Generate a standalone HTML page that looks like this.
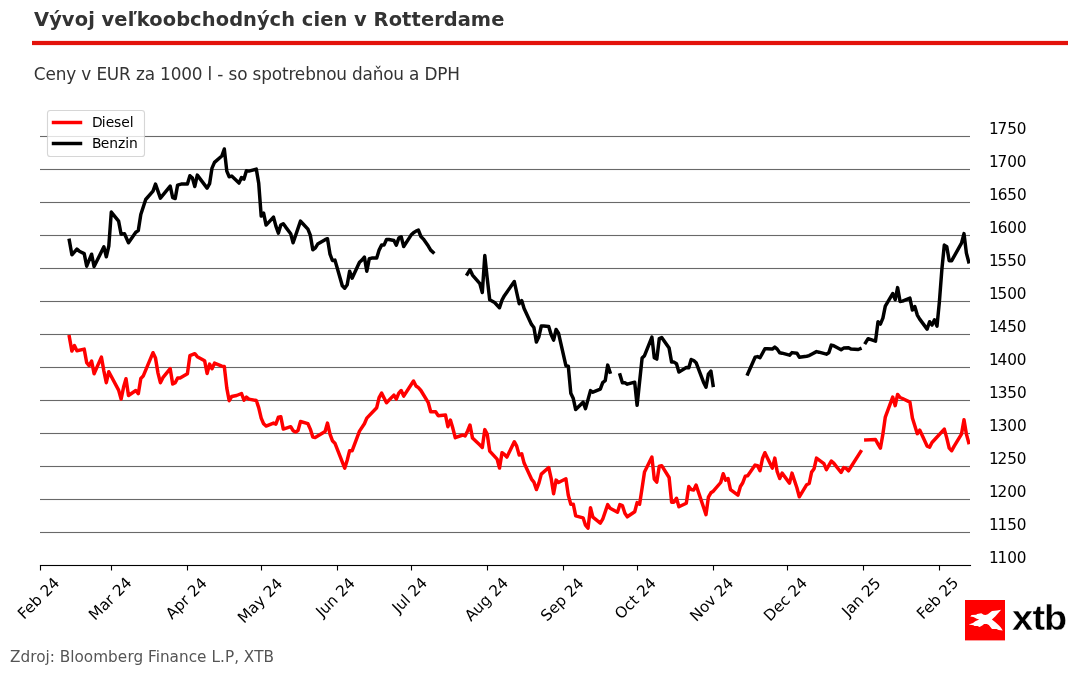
<!DOCTYPE html>
<html lang="sk">
<head>
<meta charset="utf-8">
<title>Vývoj veľkoobchodných cien v Rotterdame</title>
<style>
html,body{margin:0;padding:0;background:#fff;}
body{width:1078px;height:674px;overflow:hidden;}
svg{display:block;}
svg text{font-family:"DejaVu Sans","Liberation Sans",sans-serif;}
.title{font-weight:bold;font-size:19.44px;fill:#333;}
.sub{font-size:16.9px;fill:#333;}
.src{font-size:15.28px;fill:#555;}
.tick text{font-size:15.28px;fill:#000;}
.leg text{font-size:13.89px;fill:#000;}
.logo text{font-family:"Liberation Sans","DejaVu Sans",sans-serif;font-weight:bold;font-size:35.8px;fill:#000;stroke:#fff;stroke-width:0.35px;}
</style>
</head>
<body>
<svg width="1078" height="674" viewBox="0 0 1078 674">
<defs><clipPath id="ax"><rect x="40" y="100" width="930" height="466"/></clipPath></defs>
<rect width="1078" height="674" fill="#fff"/>
<text class="title" x="34.12 49.21 61.81 74.67 88.19 94.79 101.60 114.34 127.69 136.82 149.28 162.82 176.23 190.07 201.78 215.67 229.20 243.04 256.93 269.55 281.23 295.14 301.83 313.53 320.24 333.48 347.37 354.08 366.92 373.61 388.78 402.05 411.53 420.99 434.23 443.86 457.71 470.77 491.20" y="26.20">Vývoj veľkoobchodných cien v Rotterdame</text>
<rect x="32" y="40.9" width="1036" height="4.2" fill="#e3120b"/>
<text class="sub" x="33.79 45.42 55.78 66.33 76.15 81.37 91.20 96.42 106.79 119.12 130.70 135.92 144.74 154.81 160.01 170.73 181.19 191.78 202.36 207.58 212.11 217.31 223.25 228.45 237.23 247.28 252.48 261.37 271.69 281.98 288.58 294.86 305.21 315.65 326.20 336.25 346.79 352.00 362.56 372.75 383.17 393.34 404.01 408.97 419.42 424.62 437.34 447.36" y="80.00">Ceny v EUR za 1000 l - so spotrebnou daňou a DPH</text>
<g fill="#696969">
<rect x="40" y="531.945" width="930" height="1.11"/>
<rect x="40" y="498.945" width="930" height="1.11"/>
<rect x="40" y="465.945" width="930" height="1.11"/>
<rect x="40" y="432.945" width="930" height="1.11"/>
<rect x="40" y="399.945" width="930" height="1.11"/>
<rect x="40" y="366.945" width="930" height="1.11"/>
<rect x="40" y="333.945" width="930" height="1.11"/>
<rect x="40" y="300.945" width="930" height="1.11"/>
<rect x="40" y="267.945" width="930" height="1.11"/>
<rect x="40" y="234.945" width="930" height="1.11"/>
<rect x="40" y="201.945" width="930" height="1.11"/>
<rect x="40" y="168.945" width="930" height="1.11"/>
<rect x="40" y="135.945" width="930" height="1.11"/>
</g>
<g fill="none" stroke="#ff0000" stroke-width="3.47" stroke-linejoin="round" stroke-linecap="square" clip-path="url(#ax)">
<polyline points="69.3,336.7 71.9,351.1 74.4,345.6 76.9,350.7 84.2,349.1 86.7,362.7 89.1,365.7 91.6,361.1 94.1,373.7 101.4,357.1 103.9,371.1 106.3,382.7 108.8,371.7 118.6,390.1 121.1,399.1 123.6,387.1 126.0,378.7 128.5,395.5 135.8,390.5 138.3,393.7 140.8,378.5 143.2,376.1 153.0,352.7 155.5,358.1 158.0,373.1 160.4,382.7 162.9,377.7 170.2,368.7 172.7,384.1 175.2,382.7 177.6,378.1 180.1,378.1 187.4,373.7 189.9,355.7 194.8,353.7 197.3,356.7 204.6,360.7 207.1,373.5 209.6,364.1 212.0,368.7 214.5,363.1 221.8,366.1 224.3,366.5 226.8,388.1 229.2,400.7 231.7,396.5 236.6,395.5 241.5,393.5 244.0,400.1 246.4,397.1 248.9,399.1 256.3,400.5 258.7,407.6 261.2,418.1 263.6,423.7 266.1,426.1 273.5,423.1 275.9,424.1 278.4,417.1 280.8,416.7 283.3,429.1 290.7,426.7 293.1,430.7 295.6,432.1 298.0,430.5 300.5,421.5 307.9,423.7 310.3,429.1 312.8,437.1 315.2,437.5 325.1,431.5 327.5,423.1 330.0,434.1 332.4,440.7 334.9,443.2 344.7,468.2 347.2,460.2 349.6,450.8 352.1,450.8 359.5,431.1 364.4,423.7 366.8,418.1 376.7,407.7 379.1,397.7 381.6,393.1 386.5,402.7 393.9,395.1 396.3,399.1 398.8,393.1 401.2,390.5 403.7,396.1 413.5,381.0 416.0,386.0 418.4,387.7 420.9,390.5 428.3,402.7 430.7,411.7 435.6,411.7 438.1,415.7 445.5,415.1 447.9,426.7 450.4,420.1 452.8,428.1 455.3,437.7 462.7,435.0 465.1,436.0 467.6,431.0 470.0,425.0 472.5,438.1 479.9,445.1 482.3,447.5 484.8,429.6 487.2,434.0 489.7,451.1 497.1,459.1 499.5,468.1 502.0,452.7 504.4,454.5 506.9,457.1 514.3,441.7 516.7,446.1 519.2,455.1 521.7,453.7 524.1,463.1 531.5,479.1 533.9,482.1 536.4,489.5 538.9,483.1 541.3,474.1 548.7,467.5 551.1,478.1 553.6,493.8 556.1,480.1 558.5,482.5 565.9,478.7 568.3,495.2 570.8,504.2 573.3,504.2 575.7,515.8 583.1,517.8 585.5,525.2 588.0,528.2 590.5,507.8 592.9,517.2 600.3,523.2 602.7,519.2 607.7,504.6 610.1,508.2 617.5,512.2 619.9,504.6 622.4,505.6 624.9,513.2 627.3,516.8 634.7,511.8 637.1,502.6 639.6,504.2 642.1,488.1 644.5,472.1 651.9,457.1 654.3,479.1 656.8,482.1 659.3,466.1 661.7,465.7 669.1,477.5 671.6,502.2 674.0,502.2 676.5,498.2 678.9,506.8 686.3,503.2 688.8,486.5 691.2,489.5 693.7,490.1 696.1,485.1 706.0,514.6 708.4,497.2 710.9,492.8 713.3,491.2 720.7,482.5 723.2,473.7 725.6,480.1 728.1,478.5 730.5,489.7 737.9,495.2 740.4,486.5 742.8,482.7 745.3,476.1 747.7,475.7 755.1,465.1 757.6,465.7 760.0,470.7 762.5,458.5 764.9,452.7 772.3,468.1 774.8,458.1 777.2,471.7 779.7,478.5 782.1,473.1 789.5,483.1 792.0,473.1 796.9,487.7 799.3,496.8 806.7,484.7 809.2,483.5 811.6,472.1 814.1,468.7 816.5,458.1 823.9,463.7 826.4,469.7 831.3,461.1 833.7,463.1 841.1,472.5 843.6,467.6 846.0,468.2 848.5,470.8 860.7,451.6"/>
<polyline points="865.8,439.9 875.5,439.5 878.0,444.1 880.4,448.1 882.9,434.1 885.3,417.1 892.7,397.1 895.2,405.7 897.6,394.4 900.1,397.5 902.5,398.5 909.9,402.1 912.4,418.1 917.3,433.7 919.7,430.1 927.1,446.1 929.6,447.1 932.0,442.5 944.3,429.1 946.8,438.1 949.2,448.1 951.7,450.7 954.2,446.1 961.5,434.1 964.0,419.7 966.4,434.1 968.7,442.5"/>
</g>
<g fill="none" stroke="#000000" stroke-width="3.47" stroke-linejoin="round" stroke-linecap="square" clip-path="url(#ax)">
<polyline points="69.3,240.3 71.9,254.8 76.9,249.2 79.3,251.2 84.2,253.6 86.7,266.2 91.6,254.2 94.1,266.6 103.9,246.8 106.3,256.8 108.8,246.2 111.3,212.1 118.6,221.2 121.1,234.2 124.5,233.8 128.5,242.8 135.8,232.2 138.3,230.6 140.8,214.5 145.7,199.5 153.0,191.1 155.5,184.1 160.4,198.1 170.2,186.1 172.7,197.7 175.2,198.5 177.6,185.1 181.2,184.1 187.4,184.1 189.9,175.7 192.4,178.1 194.8,186.5 197.3,175.1 207.1,188.1 209.6,183.7 212.0,168.1 214.5,162.4 221.8,156.0 224.3,149.0 226.8,171.1 229.2,176.7 231.7,176.1 239.0,183.1 241.5,177.5 244.0,179.1 246.4,170.7 248.9,171.1 256.3,169.1 258.7,183.1 261.2,216.1 263.6,213.1 266.1,225.1 273.5,217.1 275.9,226.1 278.4,233.1 280.8,225.1 283.3,223.7 285.7,227.1 290.7,233.7 293.1,242.7 300.5,221.1 302.9,223.7 307.9,229.1 310.3,235.1 312.8,249.7 315.2,248.1 317.7,244.1 325.1,239.7 327.5,238.7 330.0,254.1 332.4,260.5 334.9,260.1 337.3,268.2 342.3,285.8 344.7,288.2 347.2,284.8 349.6,271.2 352.1,278.2 359.5,262.2 361.9,260.1 364.4,257.1 366.8,271.2 369.3,258.7 371.7,258.1 376.7,258.1 379.1,250.1 381.6,245.1 384.0,245.1 386.5,239.5 389.0,239.5 393.9,240.5 396.3,245.1 398.8,238.1 401.2,236.7 403.7,246.5 411.1,235.1 413.5,232.7 416.0,231.1 418.4,230.1 420.9,236.5 423.4,239.1 428.3,246.1 430.7,250.1 433.1,252.3"/>
<polyline points="467.3,274.1 470.0,269.7 472.5,275.1 479.9,283.7 482.3,292.5 484.8,255.6 487.2,278.1 489.7,299.7 494.6,302.5 499.5,307.7 502.0,300.1 504.4,295.7 514.3,281.5 516.7,292.5 519.2,303.7 521.7,300.5 524.1,308.5 531.5,324.4 533.9,327.5 536.4,342.1 538.9,336.7 541.3,326.0 543.8,326.0 548.7,326.4 551.1,334.5 553.6,340.1 556.1,329.5 558.5,333.1 561.0,344.1 565.9,365.7 568.3,366.1 570.8,393.2 573.3,398.6 575.7,409.6 583.1,402.2 585.5,408.6 590.5,390.6 592.9,392.2 600.3,389.2 602.7,382.6 605.2,380.7 607.7,365.1 610.0,372.1"/>
<polyline points="620.0,374.8 622.4,382.8 624.9,382.8 627.3,384.2 634.7,382.2 637.1,405.2 642.1,358.1 644.5,355.7 651.9,337.1 654.3,357.7 656.8,359.1 659.3,338.5 661.7,337.5 669.1,348.1 671.6,362.1 674.0,362.1 676.5,363.7 678.9,372.1 686.3,367.5 688.8,367.7 691.2,359.5 693.7,360.5 696.1,362.7 703.5,382.2 706.0,387.2 708.4,374.1 710.9,371.1 713.1,385.4"/>
<polyline points="747.7,374.0 755.1,357.2 757.6,356.6 760.0,357.8 764.9,348.7 767.4,348.7 772.3,349.1 774.8,347.1 777.2,349.1 779.7,352.8 782.1,353.2 789.5,355.2 792.0,352.6 796.9,353.2 799.3,357.2 806.7,356.2 809.2,355.6 811.6,354.2 816.5,351.6 819.0,352.2 826.4,354.2 828.8,352.8 831.3,345.1 833.7,345.7 841.1,349.7 843.6,348.1 848.5,347.7 850.9,349.1 858.3,349.5 860.0,348.8"/>
<polyline points="865.6,342.7 868.1,338.7 875.5,341.1 878.0,321.7 880.4,324.1 882.9,318.1 885.3,306.1 892.7,293.6 895.2,299.7 897.6,287.6 900.1,301.5 902.5,301.1 909.9,298.1 912.4,310.1 914.8,306.5 917.3,315.1 919.7,319.1 927.1,329.1 929.6,321.7 932.0,325.1 934.5,319.7 937.0,326.1 939.4,301.6 941.9,269.1 944.3,245.1 946.8,246.7 949.2,260.7 951.7,260.7 961.5,243.1 964.0,233.6 966.4,253.1 968.7,261.8"/>
</g>
<g fill="#000">
<rect x="39.92" y="564.945" width="931.13" height="1.11"/>
<rect x="39.945" y="565.5" width="1.11" height="5"/>
<rect x="110.945" y="565.5" width="1.11" height="5"/>
<rect x="186.945" y="565.5" width="1.11" height="5"/>
<rect x="260.945" y="565.5" width="1.11" height="5"/>
<rect x="336.945" y="565.5" width="1.11" height="5"/>
<rect x="410.945" y="565.5" width="1.11" height="5"/>
<rect x="486.945" y="565.5" width="1.11" height="5"/>
<rect x="562.945" y="565.5" width="1.11" height="5"/>
<rect x="636.945" y="565.5" width="1.11" height="5"/>
<rect x="712.945" y="565.5" width="1.11" height="5"/>
<rect x="786.945" y="565.5" width="1.11" height="5"/>
<rect x="862.945" y="565.5" width="1.11" height="5"/>
<rect x="938.945" y="565.5" width="1.11" height="5"/>
</g>
<g class="tick">
<text x="989.11 997.53 1007.20 1016.75" y="562.70">1100</text>
<text x="989.03 997.53 1007.14 1016.64" y="529.70">1150</text>
<text x="989.03 997.53 1007.14 1016.64" y="496.70">1200</text>
<text x="989.11 997.53 1007.20 1016.75" y="463.70">1250</text>
<text x="989.11 997.77 1007.30 1017.08" y="430.70">1300</text>
<text x="989.00 997.73 1007.35 1016.98" y="397.70">1350</text>
<text x="989.11 997.53 1007.20 1016.75" y="364.70">1400</text>
<text x="989.05 997.53 1007.25 1016.86" y="331.70">1450</text>
<text x="989.11 997.53 1007.20 1016.75" y="298.70">1500</text>
<text x="989.11 997.53 1007.20 1016.75" y="265.70">1550</text>
<text x="989.11 997.65 1007.30 1017.08" y="232.70">1600</text>
<text x="989.11 997.65 1007.29 1017.08" y="199.70">1650</text>
<text x="989.11 997.53 1007.20 1016.75" y="166.70">1700</text>
<text x="989.11 997.53 1007.20 1016.75" y="133.70">1750</text>
<text style="letter-spacing:0.010px" transform="translate(24.07,620.08) rotate(-45)">Feb 24</text>
<text style="letter-spacing:-0.006px" transform="translate(95.10,621.09) rotate(-45)">Mar 24</text>
<text style="letter-spacing:0.022px" transform="translate(171.89,620.00) rotate(-45)">Apr 24</text>
<text style="letter-spacing:-0.046px" transform="translate(244.01,623.98) rotate(-45)">May 24</text>
<text style="letter-spacing:-0.120px" transform="translate(322.26,617.75) rotate(-45)">Jun 24</text>
<text style="letter-spacing:-0.100px" transform="translate(398.38,613.79) rotate(-45)">Jul 24</text>
<text style="letter-spacing:0.012px" transform="translate(470.89,622.05) rotate(-45)">Aug 24</text>
<text style="letter-spacing:0.034px" transform="translate(547.01,621.91) rotate(-45)">Sep 24</text>
<text style="letter-spacing:0.030px" transform="translate(620.96,619.95) rotate(-45)">Oct 24</text>
<text style="letter-spacing:-0.040px" transform="translate(696.25,622.16) rotate(-45)">Nov 24</text>
<text style="letter-spacing:-0.018px" transform="translate(770.12,621.98) rotate(-45)">Dec 24</text>
<text style="letter-spacing:-0.156px" transform="translate(848.29,617.47) rotate(-45)">Jan 25</text>
<text style="letter-spacing:0.016px" transform="translate(923.03,620.07) rotate(-45)">Feb 25</text>
</g>
<g class="leg">
<rect x="47.5" y="110.5" width="97" height="46" rx="2.8" ry="2.8" fill="#fff" fill-opacity="0.8" stroke="#cccccc" stroke-opacity="0.8" stroke-width="1.1"/>
<line x1="53.5" x2="80.5" y1="122.5" y2="122.5" stroke="#ff0000" stroke-width="3.47" stroke-linecap="square"/>
<line x1="53.5" x2="80.5" y1="143.5" y2="143.5" stroke="#000" stroke-width="3.47" stroke-linecap="square"/>
<text x="91.99 101.79 105.65 114.07 121.29 129.71" y="126.80">Diesel</text>
<text x="91.95 100.75 109.19 118.03 125.22 129.12" y="147.80">Benzin</text>
</g>
<g class="logo">
<rect x="965" y="600" width="40" height="40.4" fill="#ff0000"/>
<path fill="#fff" d="M1001.1,609.8 L997.1,610.4 L992.0,611.1 L987.8,614.3 L985.5,615.1 L983.7,614.8 L981.3,613.3 L977.2,614.1 L976.2,614.8 L971.6,615.0 L970.3,616.4 L973.5,617.1 L976.7,618.7 L979.2,619.5 L975.3,621.3 L973.0,622.9 L968.6,624.5 L973.5,625.2 L974.4,626.1 L977.6,626.1 L979.5,627.1 L982.3,625.4 L984.1,624.0 L986.9,624.0 L988.8,625.0 L992.0,628.9 L996.6,629.1 L998.5,630.1 L1002.8,630.6 L1000.8,627.5 L999.0,625.4 L995.7,622.6 L991.9,619.5 L995.2,616.4 Z"/>
<text transform="translate(0,630.0) scale(1.06,1)" x="954.81 974.15 984.81">xtb</text>
</g>
<text class="src" x="9.94 20.42 30.14 36.24 45.47 49.75 54.92 59.80 70.30 74.57 83.82 93.32 108.08 117.81 127.47 133.39 143.11 148.12 155.69 159.96 169.52 179.05 188.63 197.05 206.60 211.47 220.00 224.89 234.24 239.00 243.76 254.22 263.46" y="662.00">Zdroj: Bloomberg Finance L.P, XTB</text>
</svg>
</body>
</html>
